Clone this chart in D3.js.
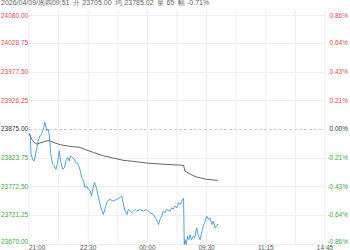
<!DOCTYPE html>
<html>
<head>
<meta charset="utf-8">
<script src="https://cdn.jsdelivr.net/npm/d3@7"></script>
<style>
  html, body { margin: 0; padding: 0; background: #fff; }
  svg { display: block; font-family: "Liberation Sans", Arial, sans-serif; }
  .header { white-space: pre; }
</style>
</head>
<body>
<svg id="chart" width="350" height="250"></svg>
<script>
// header info line
const headerText = "2026/04/09/周四09:51  开 23705.00  均 23785.02  量 65  幅 -0.71%";

const basePrice = 23875;
const priceTicks = [24080.00, 24028.75, 23977.50, 23926.25, 23875.00, 23823.75, 23772.50, 23721.25, 23670.00];
const pctTicks = ["0.86%", "0.64%", "0.43%", "0.21%", "0.00%", "-0.21%", "-0.43%", "-0.64%", "-0.86%"];

// trading-minute index of each time label (session gaps removed)
const timeIdx = [0, 90, 180, 270, 360, 450];
const timeLabels = ["21:00", "22:30", "00:00", "09:30", "11:15", "14:45"];

// price line, sampled vertices (minute index, price)
const priceT = [2, 3, 6, 8, 11, 14, 17, 19, 22, 24, 27, 29, 31, 33, 36, 38, 41, 43, 46, 48,
  51, 54, 56, 59, 61, 63, 66, 69, 71, 75, 78, 80, 83, 85, 88, 90, 93, 95, 98, 100,
  103, 105, 108, 111, 113, 116, 119, 123, 128, 133, 138, 141, 143, 146, 149, 151, 156, 161, 164, 169,
  174, 179, 184, 189, 194, 197, 199, 202, 204, 207, 209, 214, 217, 219, 222, 225, 227, 230, 232, 235,
  236, 237, 239, 241, 243, 245, 247, 250, 252, 255, 257, 260, 263, 265, 268, 270, 273, 275, 278, 280,
  283, 285, 287];
const priceV = [23865, 23831, 23819, 23818, 23836, 23854, 23863, 23866, 23875, 23887, 23872, 23875, 23863, 23830, 23812, 23809, 23803, 23812, 23836, 23818,
  23803, 23806, 23818, 23824, 23818, 23827, 23824, 23821, 23815, 23812, 23800, 23788, 23782, 23770, 23773, 23767, 23764, 23755, 23773, 23779,
  23767, 23755, 23740, 23728, 23722, 23734, 23746, 23749, 23746, 23749, 23752, 23755, 23743, 23728, 23722, 23731, 23725, 23731, 23728, 23731,
  23728, 23731, 23725, 23722, 23713, 23704, 23713, 23719, 23728, 23725, 23731, 23728, 23734, 23731, 23737, 23734, 23743, 23740, 23746, 23751,
  23668, 23677, 23668, 23683, 23677, 23686, 23677, 23683, 23680, 23698, 23686, 23677, 23692, 23701, 23710, 23719, 23713, 23716, 23704, 23710,
  23698, 23701, 23705];

// average price line
const avgT = [0, 4, 8, 12, 17, 24, 31, 37, 47, 62, 78, 88, 98, 113, 128, 143, 159, 179, 204, 235,
  237, 245, 255, 270, 287];
const avgV = [23867, 23857, 23851, 23848, 23850, 23853, 23854, 23851, 23847, 23844, 23842, 23837, 23833, 23827, 23823, 23819, 23817, 23814, 23812, 23810,
  23800, 23794, 23789, 23785, 23783];

const svg = d3.select("#chart");
const plotL = 29, plotR = 325, plotT = 14.5, plotB = 243.5;

const x = d3.scaleLinear().domain([0, 450]).range([plotL, plotR]);
const y = d3.scaleLinear().domain([23670, 24080]).range([plotB, plotT]);

// grid
const g = svg.append("g");
g.selectAll(".vgrid")
    .data(d3.range(0, 451, 45))
    .enter().append("line")
    .attr("x1", d => x(d)).attr("x2", d => x(d))
    .attr("y1", 10).attr("y2", plotB)
    .attr("stroke", "#eeeeee")
    .attr("stroke-width", 1);

g.selectAll(".hgrid")
    .data(priceTicks)
    .enter().append("line")
    .attr("x1", plotL).attr("x2", plotR)
    .attr("y1", d => Math.round(y(d)) + 0.5).attr("y2", d => Math.round(y(d)) + 0.5)
    .attr("stroke", d => d === basePrice ? "#cfcfcf" : "#eeeeee")
    .attr("stroke-dasharray", d => d === basePrice ? "3,2" : null)
    .attr("stroke-width", 1);

function tickColor(v) {
    if (v > basePrice) return "#e0504d";
    if (v < basePrice) return "#3caa3c";
    return "#333";
}
function labelY(d, i) {
    if (i === 0) return y(d) + 1;
    if (i === priceTicks.length - 1) return y(d) - 1.5;
    return y(d);
}

svg.selectAll(".ltick")
    .data(priceTicks)
    .enter().append("text")
    .attr("x", 1)
    .attr("y", (d, i) => labelY(d, i))
    .attr("dy", "0.35em")
    .attr("font-size", 6.5)
    .attr("fill", d => tickColor(d))
    .text(d => d.toFixed(2));

svg.selectAll(".rtick")
    .data(priceTicks)
    .enter().append("text")
    .attr("x", 348)
    .attr("y", (d, i) => labelY(d, i))
    .attr("dy", "0.35em")
    .attr("text-anchor", "end")
    .attr("font-size", 6.5)
    .attr("fill", d => tickColor(d))
    .text((d, i) => pctTicks[i]);

svg.selectAll(".xtick")
    .data(timeIdx)
    .enter().append("text")
    .attr("x", d => x(d))
    .attr("y", 250)
    .attr("text-anchor", (d, i) => i === 0 ? "start" : "middle")
    .attr("font-size", 6.5)
    .attr("fill", "#555")
    .text((d, i) => timeLabels[i]);

// lines
const priceData = priceT.map((t, i) => [t, priceV[i]]);
const avgData = avgT.map((t, i) => [t, avgV[i]]);
const line = d3.line().x(d => x(d[0])).y(d => y(d[1]));

svg.append("path")
    .attr("d", line(avgData))
    .attr("fill", "none")
    .attr("stroke", "#555")
    .attr("stroke-width", 0.9);

svg.append("path")
    .attr("d", line(priceData))
    .attr("fill", "none")
    .attr("stroke", "#4499d3")
    .attr("stroke-width", 0.9);

// header
svg.append("text")
    .attr("class", "header")
    .attr("x", 1)
    .attr("y", 4.5)
    .attr("font-size", 7)
    .attr("fill", "#666")
    .text(headerText);
</script>
</body>
</html>
